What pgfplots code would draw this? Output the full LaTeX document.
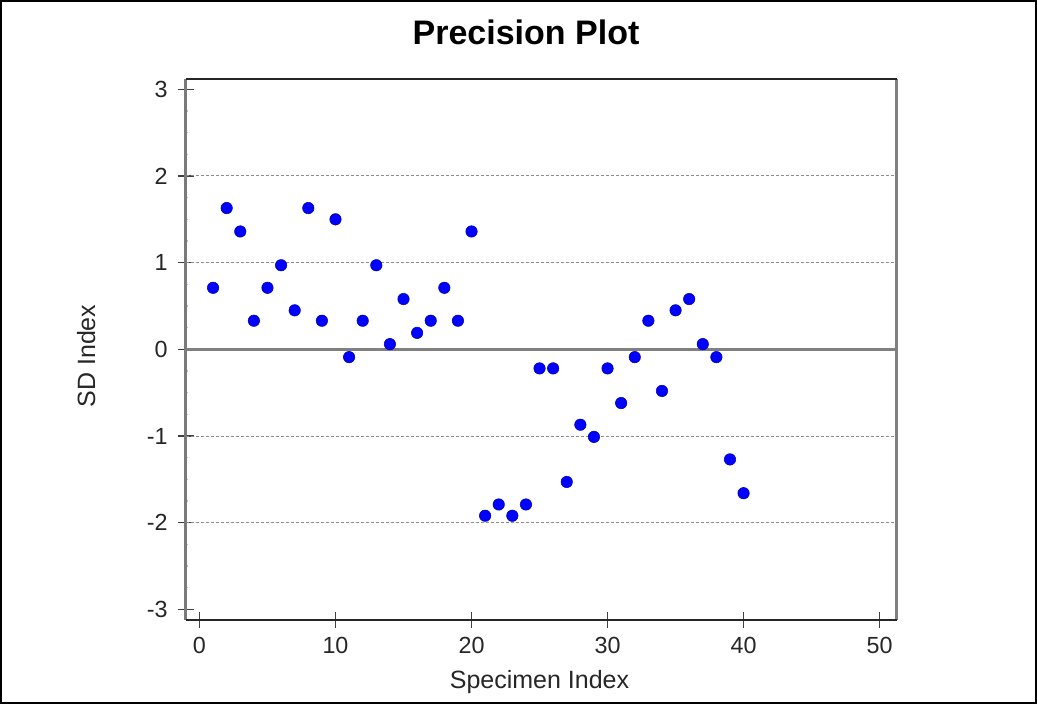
\documentclass[border=0pt]{standalone}
\usepackage{pgfplots}
\pgfplotsset{compat=1.18}
\usepackage{fontspec}
\setmainfont{Liberation Sans}
\begin{document}
\begin{tikzpicture}
\useasboundingbox (0,0) rectangle (777.75pt,528pt);
\draw[black, line width=1.6pt] (0.8pt,0.8pt) rectangle (776.95pt,527.2pt);
\begin{axis}[
  at={(139.3pt,63pt)}, anchor=south west,
  scale only axis,
  width=533.25pt, height=405.75pt,
  xmin=-1.01, xmax=51.26,
  ymin=-3.123, ymax=3.119,
  xtick={0,10,20,30,40,50},
  ytick={-3,-2,-1,0,1,2,3},
  minor y tick num=3,
  axis line style={draw=none},
  tick align=center,
  major tick length=12pt,
  minor tick length=3pt,
  every major tick/.style={black!75, line width=1.2pt},
  every minor tick/.style={black!25, line width=0.8pt},
  xtick pos=bottom, ytick pos=left,
  ticklabel style={font=\fontsize{17.5pt}{20pt}\selectfont, text=black!85},
  /pgf/number format/assume math mode=true,
  xticklabel style={yshift=-3pt},
  yticklabel style={xshift=-4pt},
  clip=false,
  axis on top=false,
]
\draw[black!45, line width=0.75pt, dash pattern=on 2.25pt off 1.5pt]
  (axis cs:-1.01,2) -- (axis cs:51.26,2)
  (axis cs:-1.01,1) -- (axis cs:51.26,1)
  (axis cs:-1.01,-1) -- (axis cs:51.26,-1)
  (axis cs:-1.01,-2) -- (axis cs:51.26,-2);
\draw[black!50, line width=2.2pt] (axis cs:-1.01,0) -- (axis cs:51.26,0);
\draw[black!52, line width=2.6pt] (rel axis cs:0,0) -- (rel axis cs:0,1);
\draw[black!50, line width=2.4pt] (rel axis cs:1,0) -- (rel axis cs:1,1);
\draw[black!85, line width=1.6pt] (rel axis cs:0,0) -- (rel axis cs:1,0);
\draw[black!85, line width=1.6pt] (rel axis cs:0,1) -- (rel axis cs:1,1);
\addplot[only marks, mark=*, mark size=4.3pt,
  mark options={fill=blue, draw=blue!70!black, line width=0.4pt}]
  coordinates {
  (1,0.71) (2,1.63) (3,1.36) (4,0.33) (5,0.71) (6,0.97) (7,0.45) (8,1.63)
  (9,0.33) (10,1.50) (11,-0.09) (12,0.33) (13,0.97) (14,0.06) (15,0.58)
  (16,0.19) (17,0.33) (18,0.71) (19,0.33) (20,1.36) (21,-1.92) (22,-1.79)
  (23,-1.92) (24,-1.79) (25,-0.22) (26,-0.22) (27,-1.53) (28,-0.87)
  (29,-1.01) (30,-0.22) (31,-0.62) (32,-0.09) (33,0.33) (34,-0.48)
  (35,0.45) (36,0.58) (37,0.06) (38,-0.09) (39,-1.27) (40,-1.66)
  };
\end{axis}
\node[anchor=base, font=\bfseries\fontsize{25.5pt}{30pt}\selectfont] at (394.5pt,494.25pt) {Precision Plot};
\node[anchor=base, font=\fontsize{18.75pt}{22pt}\selectfont, text=black!85] at (404.6pt,12pt) {Specimen Index};
\node[anchor=base, rotate=90, font=\fontsize{18.75pt}{22pt}\selectfont, text=black!85] at (71.25pt,261pt) {SD Index};
\end{tikzpicture}
\end{document}
